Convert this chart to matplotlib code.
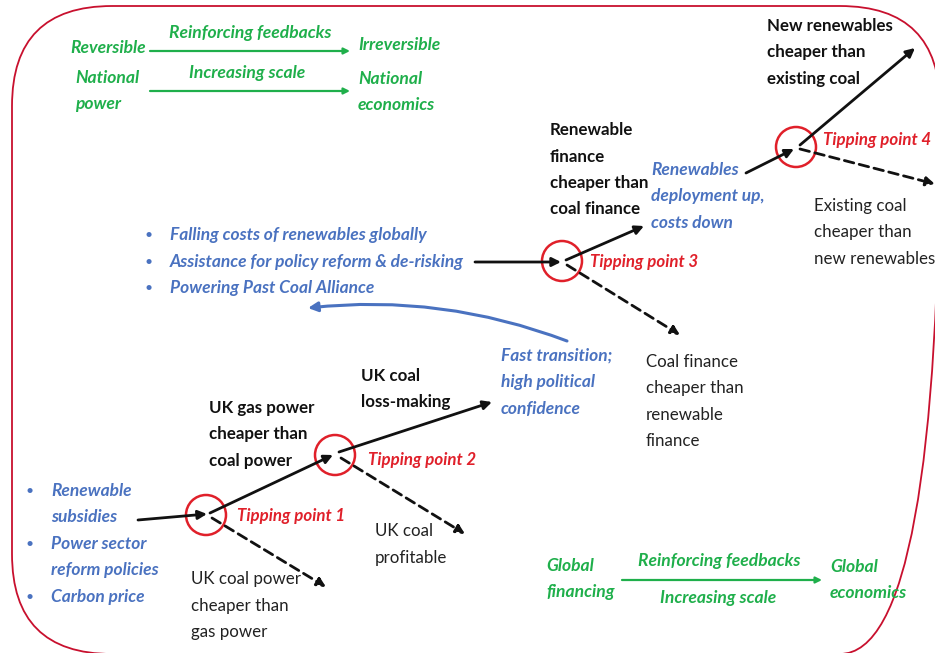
import matplotlib
matplotlib.use("Agg")
import matplotlib.pyplot as plt
from matplotlib.patches import FancyBboxPatch, Circle, FancyArrowPatch

FONT = ['Lato', 'DejaVu Sans']
GREEN = '#1faf4b'
BLUE = '#4a72c0'
RED = '#e0202a'
BLACK = '#111111'
GREY = '#222222'

# ---------------- data (labels) ----------------
tp_labels = ["Tipping point 1", "Tipping point 2", "Tipping point 3", "Tipping point 4"]
tp_x = [206, 335, 562, 796]
tp_y = [515, 455, 261, 147]
tp_label_x = [237, 368, 590, 823]
tp_label_y = [516, 460, 262, 140]

up_labels = [["UK gas power", "cheaper than", "coal power"],
             ["UK coal", "loss-making"],
             ["Renewable", "finance", "cheaper than", "coal finance"],
             ["New renewables", "cheaper than", "existing coal"]]
up_x = [209, 361, 550, 767]
up_y = [408, 376, 130, 26]

down_labels = [["UK coal power", "cheaper than", "gas power"],
               ["UK coal", "profitable"],
               ["Coal finance", "cheaper than", "renewable", "finance"],
               ["Existing coal", "cheaper than", "new renewables"]]
down_x = [191, 375, 646, 814]
down_y = [579, 531, 362, 206]

blue_lists = [["Falling costs of renewables globally",
               "Assistance for policy reform & de-risking",
               "Powering Past Coal Alliance"],
              ["Renewable", "subsidies", "Power sector", "reform policies", "Carbon price"]]
blue_bullet_rows = [[0, 1, 2], [0, 2, 4]]
blue_x = [170, 51]
blue_y = [235, 491]
blue_step = [26.5, 26.5]

blue_notes = [["Fast transition;", "high political", "confidence"],
              ["Renewables", "deployment up,", "costs down"]]
blue_note_x = [501, 651]
blue_note_y = [356, 170]

green_left = [["Reversible"], ["National", "power"], ["Global", "financing"]]
green_left_x = [70, 75, 546]
green_left_y = [48, 78, 566]
green_right = [["Irreversible"], ["National", "economics"], ["Global", "economics"]]
green_right_x = [358, 358, 830]
green_right_y = [45, 79, 567]
green_top = ["Reinforcing feedbacks", "Increasing scale", "Reinforcing feedbacks"]
green_top_x = [250, 247, 719]
green_top_y = [33, 73, 561]
green_bottom = ["Increasing scale"]
green_bottom_x = [718]
green_bottom_y = [598]
green_arrows = [((150, 51), (350, 51)), ((150, 91), (350, 91)), ((622, 580), (822, 580))]

solid_arrows = [((138, 520), (207, 514)), ((210, 513), (333, 455)), ((339, 452), (492, 402)),
                ((475, 262), (561, 262)), ((566, 260), (644, 226)), ((746, 173), (794, 149)),
                ((800, 145), (915, 48))]
dashed_arrows = [((212, 518), (326, 587)), ((341, 458), (465, 534)),
                 ((567, 265), (680, 335)), ((800, 149), (935, 184))]
curved_arrow = ((567, 341), (308, 308))

# ---------------- figure ----------------
fig = plt.figure(figsize=(9.35, 6.53), dpi=100)
ax = fig.add_axes([0, 0, 1, 1])
ax.set_xlim(0, 935)
ax.set_ylim(653, 0)
ax.axis('off')

frame = FancyBboxPatch((12, 6), 928, 648, boxstyle="round,pad=0,rounding_size=100",
                       fill=False, ec='#c8102e', lw=1.3, clip_on=False)
ax.add_patch(frame)

LH = 26.5

BLACK_FS = 12.2
GREEN_FS = 12.6
BLUE_FS = 12.5
RED_FS = 12.2


def lines(x, y, rows, **kw):
    for i, r in enumerate(rows):
        ax.text(x, y + i * LH, r, ha='left', va='center', family=FONT, **kw)


# circles and tipping point labels
for lab, cx, cy, lx, ly in zip(tp_labels, tp_x, tp_y, tp_label_x, tp_label_y):
    ax.add_patch(Circle((cx, cy), 20, fill=False, ec=RED, lw=1.8))
    ax.text(lx, ly, lab, ha='left', va='center', family=FONT, color=RED,
            fontsize=RED_FS, fontweight='bold', style='italic')

# solid arrows
for s, e in solid_arrows:
    ax.annotate('', xy=e, xytext=s,
                arrowprops=dict(arrowstyle='-|>', color=BLACK, lw=2.0, mutation_scale=13,
                                shrinkA=0, shrinkB=0))
# dashed arrows
for s, e in dashed_arrows:
    ax.annotate('', xy=e, xytext=s,
                arrowprops=dict(arrowstyle='-|>', color=BLACK, lw=2.0, mutation_scale=13,
                                shrinkA=0, shrinkB=0, linestyle=(0, (3.5, 2))))

# curved blue arrow
ax.add_patch(FancyArrowPatch(curved_arrow[0], curved_arrow[1], connectionstyle='arc3,rad=0.12',
                             arrowstyle='-|>', color=BLUE, lw=2.2, mutation_scale=14,
                             shrinkA=0, shrinkB=0))

# black labels
for rows, x, y in zip(up_labels, up_x, up_y):
    lines(x, y, rows, color=BLACK, fontsize=BLACK_FS, fontweight='bold')
for rows, x, y in zip(down_labels, down_x, down_y):
    lines(x, y, rows, color=GREY, fontsize=BLACK_FS)

# blue bullet lists
for rows, bullets, x, y, st in zip(blue_lists, blue_bullet_rows, blue_x, blue_y, blue_step):
    for i, r in enumerate(rows):
        ax.text(x, y + i * st, r, ha='left', va='center', family=FONT, color=BLUE,
                fontsize=BLUE_FS, fontweight='bold', style='italic')
    for b in bullets:
        ax.text(x - 21, y + b * st, '\u2022', ha='center', va='center', family=FONT,
                color=BLUE, fontsize=10)

for rows, x, y in zip(blue_notes, blue_note_x, blue_note_y):
    lines(x, y, rows, color=BLUE, fontsize=BLUE_FS, fontweight='bold', style='italic')

# green texts
for rows, x, y in zip(green_left, green_left_x, green_left_y):
    lines(x, y, rows, color=GREEN, fontsize=GREEN_FS, fontweight='bold', style='italic')
for rows, x, y in zip(green_right, green_right_x, green_right_y):
    lines(x, y, rows, color=GREEN, fontsize=GREEN_FS, fontweight='bold', style='italic')
for t, x, y in zip(green_top, green_top_x, green_top_y):
    ax.text(x, y, t, ha='center', va='center', family=FONT, color=GREEN,
            fontsize=GREEN_FS, fontweight='bold', style='italic')
for t, x, y in zip(green_bottom, green_bottom_x, green_bottom_y):
    ax.text(x, y, t, ha='center', va='center', family=FONT, color=GREEN,
            fontsize=GREEN_FS, fontweight='bold', style='italic')
for s, e in green_arrows:
    ax.annotate('', xy=e, xytext=s,
                arrowprops=dict(arrowstyle='-|>', color=GREEN, lw=1.6, mutation_scale=9,
                                shrinkA=0, shrinkB=0))

fig.savefig('out.png', dpi=100, facecolor='white')
